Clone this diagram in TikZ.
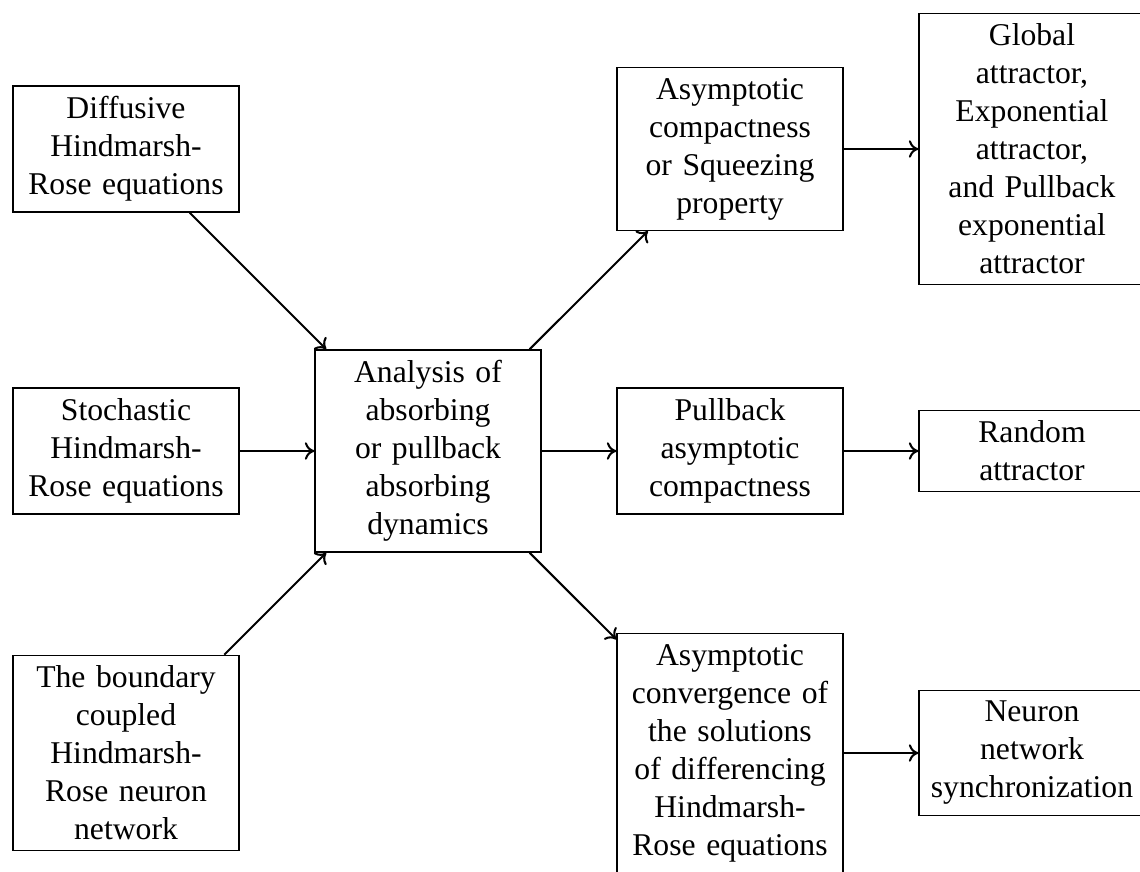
\documentclass[tikz,border=0pt]{standalone}
\usepackage{fontspec}
\setmainfont{Liberation Serif}
\usetikzlibrary{arrows.meta}
\tikzstyle{block}=[draw,rectangle,align=center,text width=64.7pt,inner sep=0.3333em]
\tikzstyle{link}=[-{To[length=3pt,width=5.5pt]},line width=0.65pt]

\begin{document}
\begin{tikzpicture}[x=95.37pt,y=95.37pt]
    \useasboundingbox (-1.4172,-1.3940) rectangle (2.3576,1.4934);
    % sources
    \node[block] (diffusive) at (-1,1) {Diffusive\\Hindmarsh-\\Rose equations};
    \node[block] (stochastic) at (-1,0) {Stochastic\\Hindmarsh-\\Rose equations};
    \node[block] (boundary) at (-1,-1) {The boundary\\coupled\\Hindmarsh-\\Rose neuron\\network};
    % analysis
    \node[block] (analysis) at (0,0) {Analysis of\\absorbing\\or pullback\\absorbing\\dynamics};
    % properties
    \node[block] (compact) at (1,1) {Asymptotic\\compactness\\or Squeezing\\property};
    \node[block] (pullback) at (1,0) {Pullback\\asymptotic\\compactness};
    \node[block] (converge) at (1,-1) {Asymptotic\\convergence of\\the solutions\\of differencing\\Hindmarsh-\\Rose equations};
    % results
    \node[block] (global) at (2,1) {Global\\attractor,\\Exponential\\attractor,\\and Pullback\\exponential\\attractor};
    \node[block] (random) at (2,0) {Random\\attractor};
    \node[block] (sync) at (2,-1) {Neuron\\network\\synchronization};
    \draw[link] (diffusive) -- (analysis);
    \draw[link] (stochastic) -- (analysis);
    \draw[link] (boundary) -- (analysis);
    \draw[link] (analysis) -- (compact);
    \draw[link] (analysis) -- (pullback);
    \draw[link] (analysis) -- (converge);
    \draw[link] (compact) -- (global);
    \draw[link] (pullback) -- (random);
    \draw[link] (converge) -- (sync);
\end{tikzpicture}
\end{document}
